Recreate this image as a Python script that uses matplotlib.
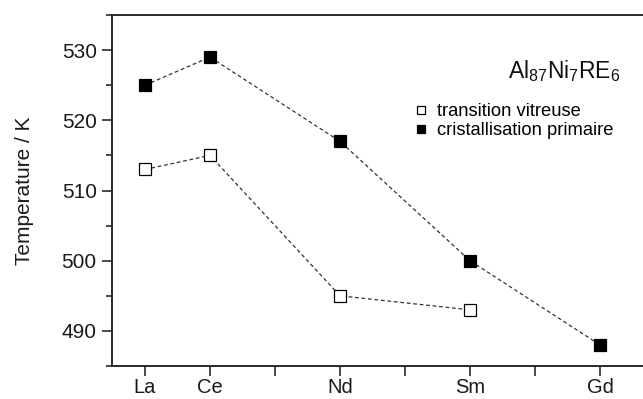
import matplotlib
matplotlib.use("Agg")
import matplotlib.pyplot as plt
from matplotlib.ticker import MultipleLocator, FixedLocator

plt.rcParams['font.family'] = ['Liberation Sans', 'DejaVu Sans']
plt.rcParams['mathtext.fontset'] = 'custom'
plt.rcParams['mathtext.rm'] = 'Liberation Sans'
plt.rcParams['mathtext.it'] = 'Liberation Sans:italic'

# Rare-earth elements placed by atomic number
elements = ['La', 'Ce', 'Nd', 'Sm', 'Gd']
atomic_numbers = [57, 58, 60, 62, 64]

# Glass transition temperature (K), no value for Gd
tg_elements = ['La', 'Ce', 'Nd', 'Sm']
tg_z = [57, 58, 60, 62]
tg_values = [513, 515, 495, 493]

# Primary crystallisation temperature (K)
tx_z = [57, 58, 60, 62, 64]
tx_values = [525, 529, 517, 500, 488]

W, H = 643, 399
fig = plt.figure(figsize=(W / 100, H / 100), dpi=100)
# axes box in pixels (from the bottom-left corner of the figure)
left, right, bottom, top = 112, 643, 33, 384
ax = fig.add_axes([left / W, bottom / H, (right - left) / W, (top - bottom) / H])


def ax_x(px):
    return (px - left) / (right - left)


def ax_y(px_from_top):
    return (H - px_from_top - bottom) / (top - bottom)


line_kw = dict(color='#333333', lw=0.9, ls=(0, (3, 2.2)), marker='s', ms=8,
               markeredgecolor='black', markeredgewidth=0.9, zorder=3)
ax.plot(tg_z, tg_values, markerfacecolor='white', label='transition vitreuse', **line_kw)
ax.plot(tx_z, tx_values, markerfacecolor='black', label='cristallisation primaire', **line_kw)

x_px_per_unit = 65
ax.set_xlim(57 - (145 - left) / x_px_per_unit, 57 + (right - 145) / x_px_per_unit)
ax.set_ylim(485, 535)

ax.xaxis.set_major_locator(FixedLocator(atomic_numbers))
ax.set_xticklabels(elements)
ax.xaxis.set_minor_locator(FixedLocator([59, 61, 63]))
ax.yaxis.set_major_locator(MultipleLocator(10))
ax.yaxis.set_minor_locator(MultipleLocator(5))

spine_color = '#2a2a2a'
for s in ['left', 'bottom', 'top']:
    ax.spines[s].set_linewidth(1.4)
    ax.spines[s].set_color(spine_color)
ax.spines['right'].set_visible(False)

ax.tick_params(axis='both', which='major', direction='out', length=7, width=1.2,
               color=spine_color, labelsize=15, labelcolor='#1a1a1a')
ax.tick_params(axis='y', which='major', pad=4)
ax.tick_params(axis='x', which='major', pad=1.5, labelsize=14.5)
ax.tick_params(axis='x', which='minor', direction='out', length=7, width=1.2, color=spine_color)
ax.tick_params(axis='y', which='minor', direction='out', length=4, width=1.2, color=spine_color)

ax.set_ylabel('Temperature / K', fontsize=15, color='#1a1a1a', labelpad=20)

ax.text(ax_x(621), ax_y(78), r'Al$_{87}$Ni$_{7}$RE$_{6}$', transform=ax.transAxes,
        ha='right', va='baseline', fontsize=16.5, color='#111111')

leg = ax.legend(loc='upper left', bbox_to_anchor=(ax_x(415), ax_y(103)),
                frameon=False, handlelength=0.6, handletextpad=0.6, labelspacing=0.12,
                markerscale=0.8, fontsize=13.2, borderaxespad=0, borderpad=0)
for h in leg.legend_handles:
    h.set_linestyle('none')

fig.savefig('out.png', dpi=100)
